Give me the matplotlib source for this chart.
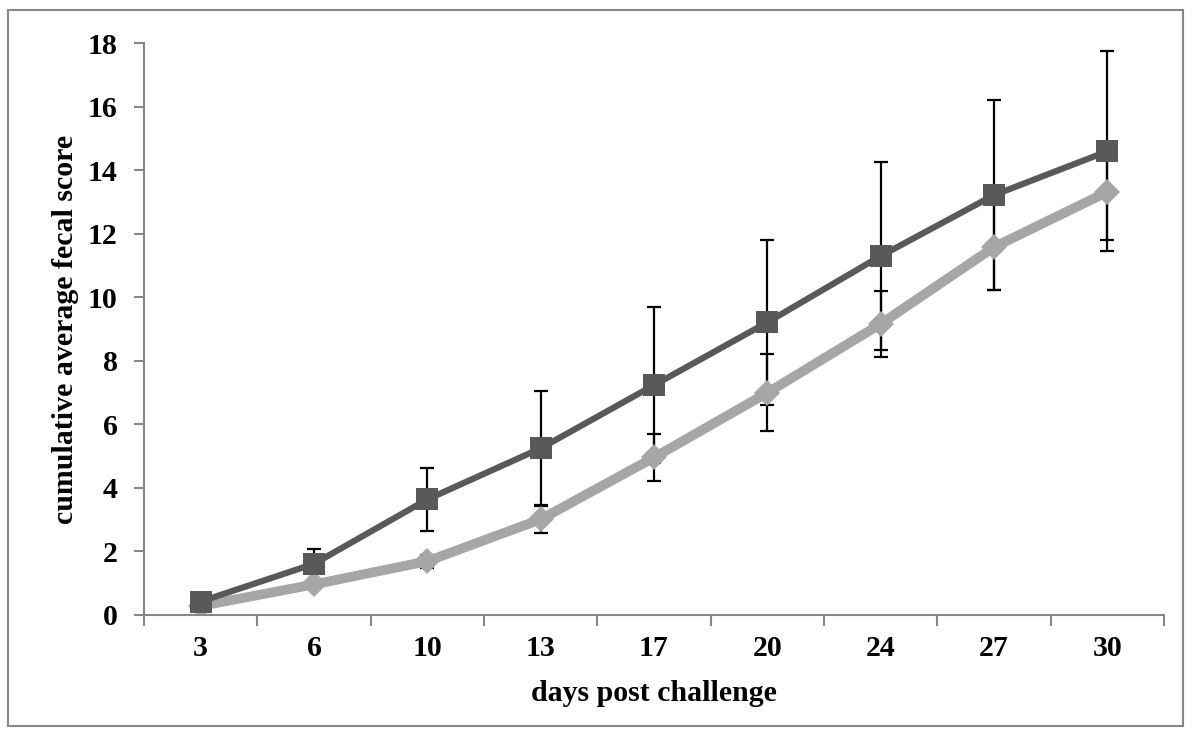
import numpy as np
import matplotlib
matplotlib.use('Agg')
import matplotlib.pyplot as plt
from matplotlib.patches import Rectangle

plt.rcParams['font.family'] = ['Liberation Serif', 'DejaVu Serif']
plt.rcParams['font.weight'] = 'bold'

days = ['3', '6', '10', '13', '17', '20', '24', '27', '30']
dark = [0.41, 1.60, 3.63, 5.24, 7.23, 9.21, 11.30, 13.22, 14.60]
dark_err = [0.10, 0.48, 1.00, 1.80, 2.45, 2.60, 2.95, 3.00, 3.15]
light = [0.27, 0.95, 1.68, 3.00, 4.95, 6.99, 9.16, 11.58, 13.32]
light_err = [0.10, 0.15, 0.20, 0.43, 0.75, 1.21, 1.05, 1.35, 1.50]

fig = plt.figure(figsize=(11.92, 7.36), dpi=100)
ax = fig.add_axes([0.1208, 0.165, 0.8557, 0.776])

x = np.arange(len(days)) + 0.5

# error bars underneath
ax.errorbar(x, dark, yerr=dark_err, fmt='none', ecolor='black', elinewidth=1.6,
            capsize=4.7, capthick=1.6, zorder=1)
ax.errorbar(x, light, yerr=light_err, fmt='none', ecolor='black', elinewidth=1.6,
            capsize=4.7, capthick=1.6, zorder=1)

ax.plot(x, light, color='#a6a6a6', linewidth=7, marker='D', markersize=13,
        markeredgewidth=0, zorder=2)
ax.plot(x, dark, color='#595959', linewidth=4.5, marker='s', markersize=16.5,
        markeredgewidth=0, zorder=3)

ax.set_xlim(0, len(days))
ax.set_ylim(0, 18)
ax.set_yticks(np.arange(0, 19, 2))
ax.set_xticks(np.arange(0, len(days) + 1))
ax.set_xticklabels([])
ax.set_xticks(x, minor=True)
ax.set_xticklabels(days, minor=True)
ax.tick_params(axis='x', which='minor', length=0, pad=15, labelsize=21.5)
ax.tick_params(axis='x', which='major', length=8, width=1.5, color='#878787')
ax.tick_params(axis='y', length=7, width=1.5, color='#878787', labelsize=21.5, pad=12)

for s in ['top', 'right']:
    ax.spines[s].set_visible(False)
for s in ['left', 'bottom']:
    ax.spines[s].set_color('#878787')
    ax.spines[s].set_linewidth(1.5)

ax.set_xlabel('days post challenge', fontsize=21.5, fontweight='bold', labelpad=13)
ax.set_ylabel('cumulative average fecal score', fontsize=21.5, fontweight='bold', labelpad=6)

# outer chart border
fig.patches.append(Rectangle((8 / 1192, 10 / 736), 1175 / 1192, 716 / 736,
                             transform=fig.transFigure, fill=False,
                             edgecolor='#878787', linewidth=1.5))

fig.savefig('out.png', dpi=100)
